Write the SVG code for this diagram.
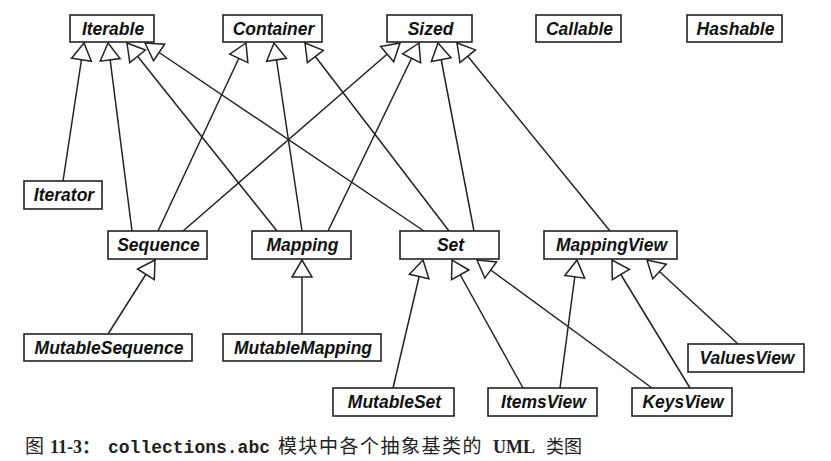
<svg xmlns="http://www.w3.org/2000/svg" width="831" height="461" viewBox="0 0 831 461">
<defs>
<style>
.box{fill:#fff;stroke:#222;stroke-width:1.6}
.lbl{font-family:"Liberation Sans",Arial,sans-serif;font-weight:bold;font-style:italic;font-size:17.5px;fill:#111;text-anchor:middle}
.edge{fill:none;stroke:#222;stroke-width:1.5;marker-end:url(#gen)}
.cap{font-family:"Liberation Serif","Noto Sans CJK SC",serif;fill:#222}
</style>
<marker id="gen" viewBox="-19 -12 21 24" refX="0" refY="0" markerWidth="21" markerHeight="24" markerUnits="userSpaceOnUse" orient="auto">
<path d="M0,0 L-17,-10 L-17,10 Z" fill="#fff" stroke="#222" stroke-width="1.5" stroke-linejoin="miter"/>
</marker>
</defs>
<rect width="831" height="461" fill="#fff"/>
<g id="connectors">
<line class="edge" x1="63" y1="181" x2="84" y2="43"/>
<line class="edge" x1="132" y1="231" x2="108" y2="43"/>
<line class="edge" x1="277" y1="231" x2="127" y2="43"/>
<line class="edge" x1="424" y1="231" x2="145" y2="43"/>
<line class="edge" x1="158" y1="231" x2="246" y2="43"/>
<line class="edge" x1="302" y1="231" x2="274" y2="43"/>
<line class="edge" x1="449" y1="231" x2="305" y2="43"/>
<line class="edge" x1="183" y1="231" x2="400" y2="43"/>
<line class="edge" x1="328" y1="231" x2="419" y2="43"/>
<line class="edge" x1="474" y1="231" x2="438" y2="43"/>
<line class="edge" x1="610" y1="231" x2="457" y2="43"/>
<line class="edge" x1="108" y1="334" x2="155" y2="260"/>
<line class="edge" x1="302" y1="334" x2="302" y2="260"/>
<line class="edge" x1="393" y1="388" x2="423" y2="260"/>
<line class="edge" x1="523" y1="388" x2="452" y2="260"/>
<line class="edge" x1="652" y1="388" x2="477" y2="260"/>
<line class="edge" x1="560" y1="388" x2="577" y2="260"/>
<line class="edge" x1="690" y1="388" x2="612" y2="260"/>
<line class="edge" x1="738" y1="344" x2="647" y2="260"/>
</g>
<g id="Iterable"><rect class="box" x="70" y="15" width="84" height="27"/><text class="lbl" x="113" y="34.5">Iterable</text></g>
<g id="Container"><rect class="box" x="223" y="15" width="99" height="27"/><text class="lbl" x="273.5" y="34.5">Container</text></g>
<g id="Sized"><rect class="box" x="387" y="15" width="85" height="27"/><text class="lbl" x="430.5" y="34.5">Sized</text></g>
<g id="Callable"><rect class="box" x="536" y="15" width="85" height="27"/><text class="lbl" x="579.5" y="34.5">Callable</text></g>
<g id="Hashable"><rect class="box" x="687" y="15" width="95" height="27"/><text class="lbl" x="735.5" y="34.5">Hashable</text></g>
<g id="Iterator"><rect class="box" x="24" y="181" width="78" height="28"/><text class="lbl" x="64" y="201">Iterator</text></g>
<g id="Sequence"><rect class="box" x="108" y="231" width="99" height="28"/><text class="lbl" x="158.5" y="251">Sequence</text></g>
<g id="Mapping"><rect class="box" x="252" y="231" width="99" height="28"/><text class="lbl" x="302.5" y="251">Mapping</text></g>
<g id="Set"><rect class="box" x="400" y="231" width="99" height="28"/><text class="lbl" x="450.5" y="251">Set</text></g>
<g id="MappingView"><rect class="box" x="544" y="231" width="133" height="28"/><text class="lbl" x="611.5" y="251">MappingView</text></g>
<g id="MutableSequence"><rect class="box" x="24" y="334" width="168" height="27"/><text class="lbl" x="109" y="353.5">MutableSequence</text></g>
<g id="MutableMapping"><rect class="box" x="223" y="334" width="158" height="27"/><text class="lbl" x="303" y="353.5">MutableMapping</text></g>
<g id="MutableSet"><rect class="box" x="333" y="388" width="121" height="28"/><text class="lbl" x="394.5" y="408">MutableSet</text></g>
<g id="ItemsView"><rect class="box" x="488" y="388" width="109" height="28"/><text class="lbl" x="543.5" y="408">ItemsView</text></g>
<g id="KeysView"><rect class="box" x="632" y="388" width="100" height="28"/><text class="lbl" x="683" y="408">KeysView</text></g>
<g id="ValuesView"><rect class="box" x="688" y="344" width="116" height="28"/><text class="lbl" x="747" y="364">ValuesView</text></g>
<text class="cap" y="453"><tspan x="25" font-size="19">图</tspan><tspan x="50" font-size="18" font-weight="bold">11-3：</tspan><tspan x="108" font-family="Liberation Mono,monospace" font-weight="bold" font-size="18">collections.abc</tspan><tspan x="278" font-size="19" letter-spacing="1.5">模块中各个抽象基类的</tspan><tspan x="493" font-size="18" font-weight="bold">UML</tspan><tspan x="546" font-size="18">类图</tspan></text>
</svg>
